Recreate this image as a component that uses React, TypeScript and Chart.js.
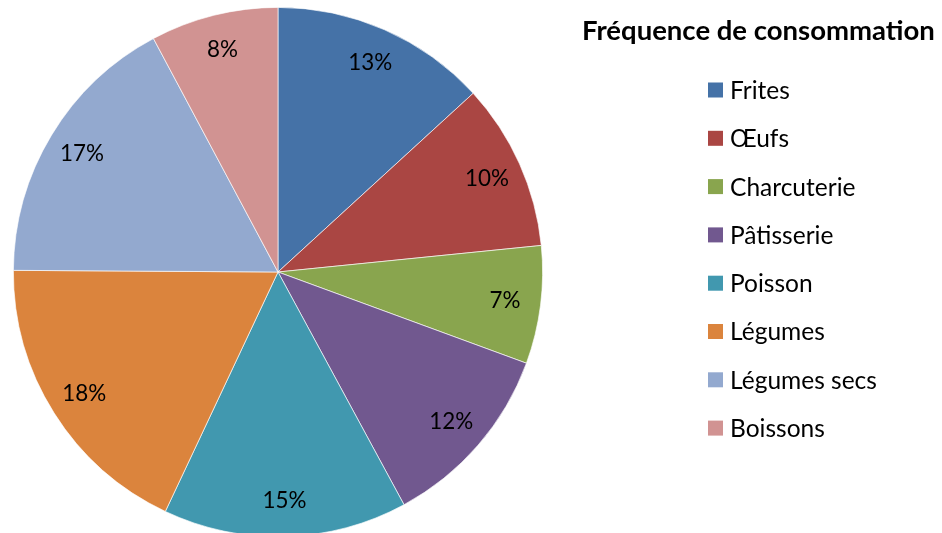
import React, { useEffect, useRef } from "react";
import { Chart, registerables } from "chart.js";

Chart.register(...registerables);

const title = "Fréquence de consommation";
const categories = ["Frites", "Œufs", "Charcuterie", "Pâtisserie", "Poisson", "Légumes", "Légumes secs", "Boissons"];
const shares = [13.2, 10.2, 7.2, 11.5, 14.9, 18.1, 17.1, 7.8];
const colors = ["#4572A7", "#AA4643", "#89A54E", "#71588F", "#4198AF", "#DB843D", "#93A9CF", "#D19392"];

const FONT = "Lato, 'Open Sans', sans-serif";

function fitSize(ctx: CanvasRenderingContext2D, text: string, target: number, weight: string) {
  ctx.font = `${weight} 100px ${FONT}`;
  const w = ctx.measureText(text).width;
  return (100 * target) / w;
}

const labelsPlugin = {
  id: "pctLabels",
  afterDatasetsDraw(chart: any) {
    const ctx: CanvasRenderingContext2D = chart.ctx;
    const meta = chart.getDatasetMeta(0);
    const data = chart.data.datasets[0].data as number[];
    const total = data.reduce((a, b) => a + b, 0);
    ctx.save();
    const size = fitSize(ctx, "13%", 44, "normal");
    ctx.font = `normal ${size}px ${FONT}`;
    ctx.fillStyle = "#000";
    ctx.textAlign = "center";
    ctx.textBaseline = "middle";
    meta.data.forEach((arc: any, i: number) => {
      const p = arc.getProps(["x", "y", "startAngle", "endAngle", "outerRadius"], true);
      const mid = (p.startAngle + p.endAngle) / 2;
      const r = p.outerRadius * 0.865;
      const x = p.x + Math.cos(mid) * r;
      const y = p.y + Math.sin(mid) * r;
      ctx.fillText(Math.round((data[i] / total) * 100) + "%", x, y);
    });
    ctx.restore();
  },
};

const legendPlugin = {
  id: "customLegend",
  afterDraw(chart: any) {
    const ctx: CanvasRenderingContext2D = chart.ctx;
    ctx.save();
    const tSize = fitSize(ctx, title, 353, "bold");
    ctx.font = `bold ${tSize}px ${FONT}`;
    ctx.fillStyle = "#000";
    ctx.textAlign = "left";
    ctx.textBaseline = "middle";
    ctx.fillText(title, 582, 31);
    const iSize = fitSize(ctx, "Légumes secs", 147, "normal");
    ctx.font = `normal ${iSize}px ${FONT}`;
    const labels = chart.data.labels as string[];
    const bg = chart.data.datasets[0].backgroundColor as string[];
    labels.forEach((lab, i) => {
      const y = 90 + i * 48.3;
      ctx.fillStyle = bg[i];
      ctx.fillRect(708, y - 7.5, 15, 15);
      ctx.fillStyle = "#000";
      ctx.fillText(lab, 730, y + 1);
    });
    ctx.restore();
  },
};

export default function App() {
  const ref = useRef<HTMLCanvasElement>(null);
  useEffect(() => {
    if (!ref.current) return;
    const chart = new Chart(ref.current, {
      type: "pie",
      data: {
        labels: categories,
        datasets: [
          {
            data: shares,
            backgroundColor: colors,
            borderColor: "rgba(255,255,255,0.85)",
            borderWidth: 0.75,
          },
        ],
      },
      options: {
        responsive: false,
        animation: false,
        layout: { padding: { left: 13, top: 7, right: 399, bottom: 8 } },
        plugins: {
          legend: { display: false },
          tooltip: { enabled: false },
          title: { display: false },
        },
      },
      plugins: [labelsPlugin, legendPlugin],
    });
    return () => chart.destroy();
  }, []);
  return (
    <div style={{ position: "fixed", left: 0, top: 0, width: 942, height: 533, overflow: "hidden", background: "#fff" }}>
      <canvas ref={ref} width={942} height={545} style={{ display: "block", width: 942, height: 545 }} />
    </div>
  );
}
